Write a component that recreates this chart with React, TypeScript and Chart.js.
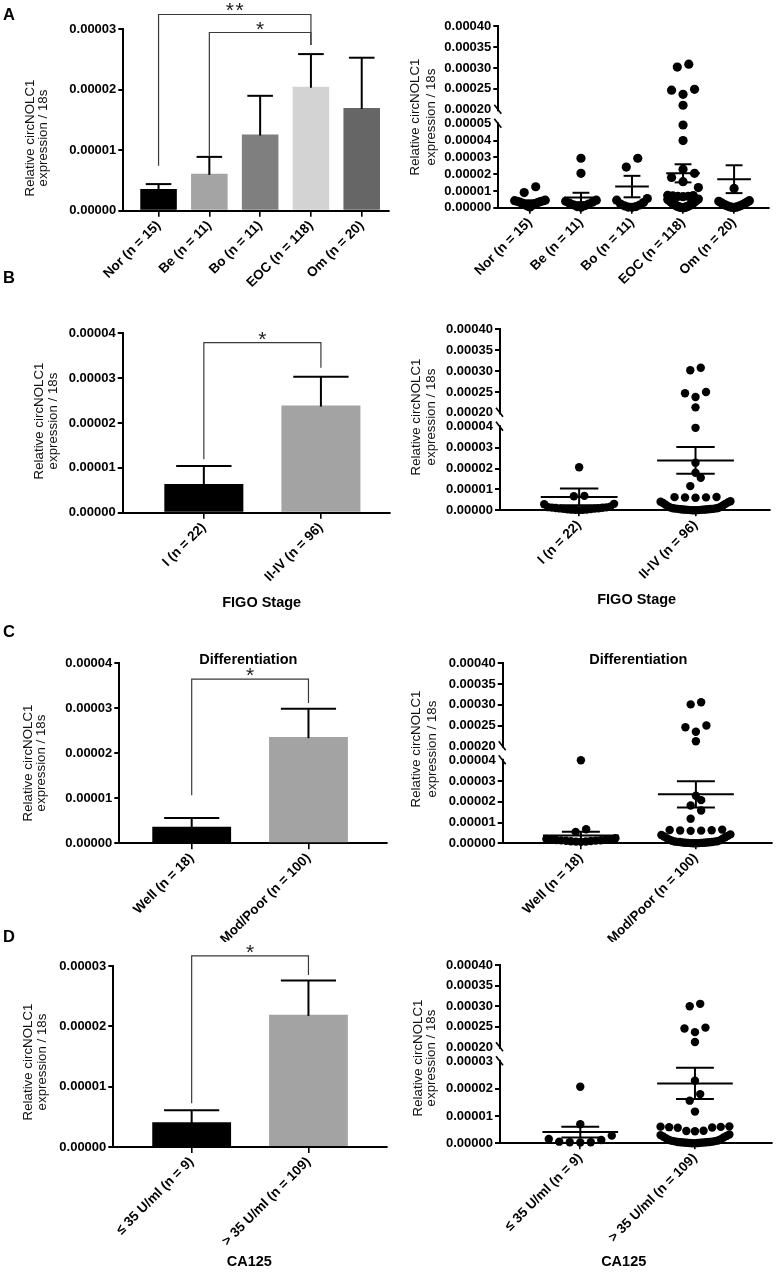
import React, { useEffect, useRef } from 'react';
import { Chart, registerables } from 'chart.js';

Chart.register(...registerables);

const FONT = "'Liberation Sans', Arial, Helvetica, sans-serif";

// ===================== DATA =====================
const yTitleLines = ['Relative circNOLC1', 'expression / 18s'];
const upperTicks = [0.0002, 0.00025, 0.0003, 0.00035, 0.0004];

// ---- Panel A ----
const aCategories = ['Nor (n = 15)', 'Be (n = 11)', 'Bo (n = 11)', 'EOC (n = 118)', 'Om (n = 20)'];
const aMeans = [3.6e-6, 6.1e-6, 1.26e-5, 2.05e-5, 1.7e-5];
const aSems = [0.8e-6, 2.8e-6, 6.4e-6, 5.4e-6, 8.3e-6];
const aBarColors = ['#000000', '#a4a4a4', '#7f7f7f', '#d3d3d3', '#666666'];
const aBarTicks = [0, 1e-5, 2e-5, 3e-5];
const aDotTicks = [0, 1e-5, 2e-5, 3e-5, 4e-5, 5e-5];
const aNor = [1.25e-5, 0.9e-5, 0.45e-5, 0.42e-5, 0.4e-5, 0.38e-5, 0.36e-5, 0.33e-5, 0.3e-5, 0.27e-5, 0.24e-5, 0.2e-5, 0.15e-5, 0.1e-5, 0.04e-5];
const aBe = [2.95e-5, 2.05e-5, 0.45e-5, 0.38e-5, 0.33e-5, 0.27e-5, 0.22e-5, 0.17e-5, 0.12e-5, 0.07e-5, 0.03e-5];
const aBo = [2.95e-5, 2.42e-5, 0.55e-5, 0.45e-5, 0.31e-5, 0.22e-5, 0.16e-5, 0.11e-5, 0.07e-5, 0.04e-5, 0.02e-5];
const aEOC = [
  3.09e-4, 3.02e-4, 2.49e-4, 2.47e-4, 2.37e-4, 2.11e-4,
  4.93e-5, 4.0e-5, 2.3e-5, 2.05e-5, 1.8e-5, 1.55e-5, 1.2e-5,
  0.74e-5, 0.72e-5, 0.7e-5, 0.68e-5, 0.67e-5, 0.66e-5,
  0.52e-5, 0.49e-5, 0.47e-5, 0.44e-5, 0.41e-5, 0.38e-5, 0.36e-5, 0.33e-5, 0.3e-5, 0.28e-5,
  0.25e-5, 0.22e-5, 0.2e-5, 0.17e-5, 0.15e-5, 0.13e-5, 0.11e-5, 0.09e-5, 0.08e-5, 0.06e-5,
  0.05e-5, 0.04e-5, 0.03e-5, 0.02e-5, 0.01e-5, 0.01e-5, 0,
];
const aOm = [1.15e-5, 0.42e-5, 0.38e-5, 0.35e-5, 0.32e-5, 0.29e-5, 0.26e-5, 0.23e-5, 0.2e-5, 0.18e-5, 0.15e-5, 0.13e-5, 0.11e-5, 0.09e-5, 0.07e-5, 0.05e-5, 0.04e-5, 0.03e-5, 0.02e-5, 0.01e-5];

// ---- Panel B ----
const bCategories = ['I (n = 22)', 'II-IV (n = 96)'];
const bMeans = [6.4e-6, 2.39e-5];
const bSems = [4.0e-6, 6.4e-6];
const bBarColors = ['#000000', '#a3a3a3'];
const bBarTicks = [0, 1e-5, 2e-5, 3e-5, 4e-5];
const bDotTicks = [0, 1e-5, 2e-5, 3e-5, 4e-5];
const bI = [2.06e-5, 0.69e-5, 0.67e-5, 0.31e-5, 0.29e-5, 0.17e-5, 0.15e-5, 0.14e-5, 0.13e-5, 0.12e-5, 0.11e-5, 0.1e-5, 0.09e-5, 0.08e-5, 0.07e-5, 0.06e-5, 0.05e-5, 0.04e-5, 0.03e-5, 0.02e-5, 0.02e-5, 0.01e-5];
const bII = [
  3.08e-4, 3.02e-4, 2.5e-4, 2.47e-4, 2.38e-4, 2.13e-4,
  3.95e-5, 2.28e-5, 1.8e-5, 1.56e-5, 1.16e-5,
  0.64e-5, 0.63e-5, 0.62e-5, 0.61e-5, 0.6e-5,
  0.43e-5, 0.41e-5, 0.38e-5, 0.35e-5, 0.31e-5, 0.27e-5, 0.23e-5, 0.19e-5, 0.16e-5, 0.13e-5,
  0.11e-5, 0.1e-5, 0.09e-5, 0.08e-5, 0.07e-5, 0.07e-5, 0.06e-5, 0.05e-5, 0.05e-5, 0.04e-5,
  0.04e-5, 0.03e-5, 0.03e-5, 0.02e-5, 0.02e-5, 0.01e-5, 0.01e-5, 0, 0,
];

// ---- Panel C ----
const cCategories = ['Well (n = 18)', 'Mod/Poor (n = 100)'];
const cMeans = [3.7e-6, 2.36e-5];
const cSems = [1.9e-6, 6.3e-6];
const cBarColors = ['#000000', '#a3a3a3'];
const cBarTicks = [0, 1e-5, 2e-5, 3e-5, 4e-5];
const cDotTicks = [0, 1e-5, 2e-5, 3e-5, 4e-5];
const cWell = [4.0e-5, 0.68e-5, 0.55e-5, 0.24e-5, 0.21e-5, 0.19e-5, 0.18e-5, 0.17e-5, 0.16e-5, 0.15e-5, 0.14e-5, 0.13e-5, 0.12e-5, 0.11e-5, 0.1e-5, 0.09e-5, 0.08e-5, 0.07e-5];
const cMod = [
  3.06e-4, 3.01e-4, 2.5e-4, 2.46e-4, 2.35e-4, 2.12e-4,
  2.29e-5, 2.08e-5, 1.82e-5, 1.58e-5, 1.18e-5,
  0.66e-5, 0.64e-5, 0.63e-5, 0.62e-5, 0.61e-5, 0.6e-5,
  0.43e-5, 0.4e-5, 0.36e-5, 0.33e-5, 0.29e-5, 0.25e-5, 0.21e-5, 0.17e-5, 0.14e-5, 0.12e-5,
  0.1e-5, 0.09e-5, 0.08e-5, 0.07e-5, 0.06e-5, 0.06e-5, 0.05e-5, 0.04e-5, 0.04e-5, 0.03e-5,
  0.03e-5, 0.02e-5, 0.02e-5, 0.01e-5, 0.01e-5, 0, 0,
];

// ---- Panel D ----
const dCategories = ['≤ 35 U/ml (n = 9)', '> 35 U/ml (n = 109)'];
const dMeans = [4.1e-6, 2.19e-5];
const dSems = [2.0e-6, 5.7e-6];
const dBarColors = ['#000000', '#a3a3a3'];
const dBarTicks = [0, 1e-5, 2e-5, 3e-5];
const dDotTicks = [0, 1e-5, 2e-5, 3e-5];
const dLow = [2.07e-5, 0.7e-5, 0.28e-5, 0.16e-5, 0.12e-5, 0.06e-5, 0.04e-5, 0.04e-5, 0.03e-5];
const dHigh = [
  3.06e-4, 3.0e-4, 2.48e-4, 2.46e-4, 2.37e-4, 2.13e-4,
  2.29e-5, 1.8e-5, 1.56e-5, 1.16e-5,
  0.62e-5, 0.61e-5, 0.6e-5, 0.59e-5, 0.58e-5, 0.57e-5, 0.46e-5, 0.45e-5, 0.44e-5,
  0.32e-5, 0.3e-5, 0.27e-5, 0.24e-5, 0.21e-5, 0.18e-5, 0.15e-5, 0.12e-5, 0.1e-5, 0.09e-5,
  0.08e-5, 0.07e-5, 0.06e-5, 0.05e-5, 0.05e-5, 0.04e-5, 0.04e-5, 0.03e-5, 0.03e-5, 0.02e-5,
  0.02e-5, 0.01e-5, 0.01e-5, 0, 0,
];

// significance brackets (values in axis units)
const aBrackets = [
  { from: 0, to: 3, y: 3.245e-5, fromEnd: 0.745e-5, toEnd: 2.74e-5, label: '**' },
  { from: 1, to: 3, y: 2.947e-5, fromEnd: 0.894e-5, toEnd: 2.74e-5, label: '*' },
];
const bBrackets = [{ from: 0, to: 1, y: 3.79e-5, fromEnd: 1.19e-5, toEnd: 3.23e-5, label: '*' }];
const cBrackets = [{ from: 0, to: 1, y: 3.65e-5, fromEnd: 1.07e-5, toEnd: 3.12e-5, label: '*' }];
const dBrackets = [{ from: 0, to: 1, y: 3.167e-5, fromEnd: 0.725e-5, toEnd: 2.85e-5, label: '*' }];

// ===================== LAYOUT =====================
const Y_AXIS_BOX = 70;
const BREAK_GAP = 14;

const fmtTick = (v: number) => Number(v).toFixed(5);

type Rect = { x: number; y: number; w: number; h: number };
type Area = { l: number; t: number; r: number; b: number };
type TextItem = { text: string; x: number; y: number; size: number; bold?: boolean; align?: CanvasTextAlign; baseline?: CanvasTextBaseline };

function yTitleTexts(x1: number, x2: number, cy: number) {
  return { x1, x2, cy };
}

const panels: any[] = [
  {
    id: 'A-bar', kind: 'bar', canvas: { x: 0, y: 0, w: 392, h: 292 }, area: { l: 123.3, t: 29.3, r: 389, b: 210.7 },
    xRange: [-0.694, 4.537], categories: aCategories, means: aMeans, sems: aSems, colors: aBarColors,
    yTicks: aBarTicks, barPct: 0.72, brackets: aBrackets, yTitle: yTitleTexts(30, 43.5, 138),
    texts: [{ text: 'A', x: 3, y: 20, size: 16.5, bold: true, align: 'left', baseline: 'alphabetic' }],
  },
  {
    id: 'A-dot', kind: 'dot', canvas: { x: 392, y: 0, w: 384, h: 292 }, area: { l: 498.3, t: 26, r: 769.3, b: 207.7 },
    xRange: [-0.62, 4.69], categories: aCategories, means: aMeans, sems: aSems,
    groups: [aNor, aBe, aBo, aEOC, aOm], lowerTicks: aDotTicks, radius: 4.6, yTitle: yTitleTexts(415.5, 431.5, 117), texts: [],
  },
  {
    id: 'B-bar', kind: 'bar', canvas: { x: 0, y: 268, w: 392, h: 352 }, area: { l: 122.7, t: 333.3, r: 390, b: 512.7 },
    xRange: [-0.693, 1.59], categories: bCategories, means: bMeans, sems: bSems, colors: bBarColors,
    yTicks: bBarTicks, barPct: 0.675, brackets: bBrackets, yTitle: yTitleTexts(39.5, 53.5, 421),
    texts: [
      { text: 'B', x: 3, y: 283.3, size: 16.5, bold: true, align: 'left', baseline: 'alphabetic' },
      { text: 'FIGO Stage', x: 261.7, y: 603.3, size: 14.5, bold: true },
    ],
  },
  {
    id: 'B-dot', kind: 'dot', canvas: { x: 392, y: 268, w: 384, h: 352 }, area: { l: 500, t: 329.3, r: 770, b: 510.3 },
    xRange: [-0.68, 1.64], categories: bCategories, means: bMeans, sems: bSems,
    groups: [bI, bII], lowerTicks: bDotTicks, radius: 4.2, yTitle: yTitleTexts(416.7, 431.7, 417),
    texts: [{ text: 'FIGO Stage', x: 636.7, y: 600, size: 14.5, bold: true }],
  },
  {
    id: 'C-bar', kind: 'bar', canvas: { x: 0, y: 620, w: 392, h: 322 }, area: { l: 119.3, t: 663.3, r: 386.7, b: 843.3 },
    xRange: [-0.62, 1.67], categories: cCategories, means: cMeans, sems: cSems, colors: cBarColors,
    yTicks: cBarTicks, barPct: 0.675, brackets: cBrackets, yTitle: yTitleTexts(28.3, 41.7, 763),
    texts: [
      { text: 'C', x: 3, y: 637, size: 16.5, bold: true, align: 'left', baseline: 'alphabetic' },
      { text: 'Differentiation', x: 248.3, y: 660, size: 14.5, bold: true },
    ],
  },
  {
    id: 'C-dot', kind: 'dot', canvas: { x: 392, y: 620, w: 384, h: 322 }, area: { l: 502.7, t: 663.3, r: 773.3, b: 843.3 },
    xRange: [-0.68, 1.66], categories: cCategories, means: cMeans, sems: cSems,
    groups: [cWell, cMod], lowerTicks: cDotTicks, radius: 4.2, yTitle: yTitleTexts(416.7, 432.7, 749),
    texts: [{ text: 'Differentiation', x: 638.3, y: 660, size: 14.5, bold: true }],
  },
  {
    id: 'D-bar', kind: 'bar', canvas: { x: 0, y: 920, w: 392, h: 353 }, area: { l: 113.3, t: 966, r: 386.7, b: 1147 },
    xRange: [-0.671, 1.67], categories: dCategories, means: dMeans, sems: dSems, colors: dBarColors,
    yTicks: dBarTicks, barPct: 0.675, brackets: dBrackets, yTitle: yTitleTexts(28.3, 42.3, 1062),
    texts: [
      { text: 'D', x: 3, y: 941.7, size: 16.5, bold: true, align: 'left', baseline: 'alphabetic' },
      { text: 'CA125', x: 249.3, y: 1261.7, size: 14.5, bold: true },
    ],
  },
  {
    id: 'D-dot', kind: 'dot', canvas: { x: 392, y: 920, w: 384, h: 353 }, area: { l: 500, t: 965.3, r: 775, b: 1143.3 },
    xRange: [-0.7, 1.67], categories: dCategories, means: dMeans, sems: dSems,
    groups: [dLow, dHigh], lowerTicks: dDotTicks, radius: 4.2, yTitle: yTitleTexts(418.3, 431.7, 1058),
    texts: [{ text: 'CA125', x: 623.7, y: 1261.7, size: 14.5, bold: true }],
  },
];

// ===================== HELPERS =====================
function xBoxHeight(canvas: Rect, area: Area) {
  return canvas.y + canvas.h - area.b;
}

function baseLayout(canvas: Rect, area: Area) {
  return {
    padding: {
      left: area.l - canvas.x - Y_AXIS_BOX,
      top: area.t - canvas.y,
      right: canvas.x + canvas.w - area.r,
      bottom: 0,
    },
  };
}

function xScale(categories: string[], range: number[], boxH: number) {
  return {
    type: 'linear',
    axis: 'x',
    position: 'bottom',
    min: range[0],
    max: range[1],
    bounds: 'data',
    offset: false,
    afterBuildTicks: (s: any) => {
      s.ticks = categories.map((_, i) => ({ value: i }));
    },
    afterFit: (s: any) => {
      s.height = boxH;
    },
    ticks: {
      autoSkip: false,
      minRotation: 45,
      maxRotation: 45,
      padding: 1,
      color: '#000',
      font: { family: FONT, size: 13.5, weight: 'bold' },
      callback: (v: number) => categories[Math.round(v)] ?? '',
    },
    grid: { drawOnChartArea: false, drawTicks: true, tickLength: 6, lineWidth: 1.6, color: '#000', offset: false },
    border: { display: true, width: 2, color: '#000' },
  };
}

function yScale(ticks: number[], min: number, max: number, hideTick: number | null, extra: any = {}) {
  return {
    type: 'linear',
    axis: 'y',
    position: 'left',
    min,
    max,
    bounds: 'data',
    afterBuildTicks: (s: any) => {
      s.ticks = ticks.map((v) => ({ value: v }));
    },
    afterFit: (s: any) => {
      s.width = Y_AXIS_BOX;
    },
    ticks: {
      autoSkip: false,
      padding: 2,
      color: '#000',
      font: { family: FONT, size: 13, weight: 'bold' },
      callback: (v: number) => fmtTick(v),
    },
    grid: {
      drawOnChartArea: false,
      drawTicks: true,
      tickLength: 5,
      lineWidth: 2,
      color: '#000',
      tickColor: (ctx: any) =>
        hideTick !== null && ctx.tick && Math.abs(ctx.tick.value - hideTick) < 1e-12 ? 'rgba(0,0,0,0)' : '#000',
    },
    border: { display: true, width: 2, color: '#000' },
    ...extra,
  };
}

function line(ctx: CanvasRenderingContext2D, x1: number, y1: number, x2: number, y2: number) {
  ctx.beginPath();
  ctx.moveTo(x1, y1);
  ctx.lineTo(x2, y2);
  ctx.stroke();
}

function textPlugin(p: any) {
  return {
    id: 'texts-' + p.id,
    afterDraw(chart: any) {
      const ctx: CanvasRenderingContext2D = chart.ctx;
      const ox = p.canvas.x;
      const oy = p.canvas.y;
      ctx.save();
      ctx.fillStyle = '#111';
      ctx.font = `13.3px ${FONT}`;
      ctx.textAlign = 'center';
      ctx.textBaseline = 'middle';
      [p.yTitle.x1, p.yTitle.x2].forEach((x: number, i: number) => {
        ctx.save();
        ctx.translate(x - ox, p.yTitle.cy - oy);
        ctx.rotate(-Math.PI / 2);
        ctx.fillText(yTitleLines[i], 0, 0);
        ctx.restore();
      });
      p.texts.forEach((t: TextItem) => {
        ctx.font = `${t.bold ? 'bold ' : ''}${t.size}px ${FONT}`;
        ctx.textAlign = t.align || 'center';
        ctx.textBaseline = t.baseline || 'middle';
        ctx.fillStyle = '#000';
        ctx.fillText(t.text, t.x - ox, t.y - oy);
      });
      ctx.restore();
    },
  };
}

function barExtrasPlugin(p: any) {
  return {
    id: 'barextras-' + p.id,
    afterDatasetsDraw(chart: any) {
      const ctx: CanvasRenderingContext2D = chart.ctx;
      const xs = chart.scales.x;
      const ys = chart.scales.y;
      const meta = chart.getDatasetMeta(0);
      ctx.save();
      ctx.strokeStyle = '#000';
      ctx.lineWidth = 2;
      p.means.forEach((m: number, i: number) => {
        const bar = meta.data[i];
        const w = bar.width;
        const cx = xs.getPixelForValue(i);
        const yBase = ys.getPixelForValue(m);
        const yTop = ys.getPixelForValue(m + p.sems[i]);
        line(ctx, cx, yBase + 1, cx, yTop);
        line(ctx, cx - 0.35 * w, yTop, cx + 0.35 * w, yTop);
      });
      ctx.strokeStyle = '#3a3a3a';
      ctx.lineWidth = 1.2;
      p.brackets.forEach((b: any) => {
        const x1 = xs.getPixelForValue(b.from);
        const x2 = xs.getPixelForValue(b.to);
        const yb = ys.getPixelForValue(b.y);
        ctx.beginPath();
        ctx.moveTo(x1, ys.getPixelForValue(b.fromEnd));
        ctx.lineTo(x1, yb);
        ctx.lineTo(x2, yb);
        ctx.lineTo(x2, ys.getPixelForValue(b.toEnd));
        ctx.stroke();
        ctx.font = `21px ${FONT}`;
        ctx.fillStyle = '#222';
        ctx.textAlign = 'center';
        ctx.textBaseline = 'alphabetic';
        const adv = ctx.measureText('*').width + 1.5;
        const n = b.label.length;
        const mid = (x1 + x2) / 2;
        for (let k = 0; k < n; k++) {
          ctx.fillText('*', mid + (k - (n - 1) / 2) * adv, yb + 3);
        }
      });
      ctx.restore();
    },
  };
}

const swarmPlugin = {
  id: 'swarm',
  afterDatasetsUpdate(chart: any) {
    const xs = chart.scales.x;
    const spacing = Math.abs(xs.getPixelForValue(1) - xs.getPixelForValue(0));
    chart.data.datasets.forEach((ds: any, di: number) => {
      if (!ds.swarm) return;
      const meta = chart.getDatasetMeta(di);
      const d = ds.pointRadius * 2;
      const rowPx = 1.1 * d;
      const maxW = 0.6 * spacing;
      const cx = xs.getPixelForValue(ds.cat);
      const items = meta.data.map((el: any, i: number) => ({ el, v: ds.data[i].y }));
      items.sort((a: any, b: any) => a.v - b.v);
      const rows: any[][] = [];
      let cur: any[] = [];
      let startY = 0;
      items.forEach((it: any) => {
        if (cur.length && startY - it.el.y < rowPx) cur.push(it);
        else {
          if (cur.length) rows.push(cur);
          cur = [it];
          startY = it.el.y;
        }
      });
      if (cur.length) rows.push(cur);
      rows.forEach((row) => {
        const n = row.length;
        const s = n > 1 ? Math.min(1.25 * d, maxW / (n - 1)) : 0;
        const slots = row.map((_: any, k: number) => (k - (n - 1) / 2) * s);
        slots.sort((a: number, b: number) => Math.abs(a) - Math.abs(b) || a - b);
        row.forEach((it: any, k: number) => {
          it.el.x = cx + slots[k];
        });
      });
    });
  },
};

function dotExtrasPlugin(p: any, loTop: number) {
  return {
    id: 'dotextras-' + p.id,
    afterDatasetsDraw(chart: any) {
      const ctx: CanvasRenderingContext2D = chart.ctx;
      const xs = chart.scales.x;
      const ys = chart.scales.yLo;
      const sp = Math.abs(xs.getPixelForValue(1) - xs.getPixelForValue(0));
      ctx.save();
      ctx.strokeStyle = '#000';
      ctx.lineWidth = 2;
      p.means.forEach((m: number, i: number) => {
        const cx = xs.getPixelForValue(i);
        const ym = ys.getPixelForValue(m);
        const yu = ys.getPixelForValue(m + p.sems[i]);
        const yl = ys.getPixelForValue(m - p.sems[i]);
        line(ctx, cx - 0.33 * sp, ym, cx + 0.33 * sp, ym);
        line(ctx, cx, yu, cx, yl);
        line(ctx, cx - 0.165 * sp, yu, cx + 0.165 * sp, yu);
        line(ctx, cx - 0.165 * sp, yl, cx + 0.165 * sp, yl);
      });
      ctx.restore();
    },
    afterDraw(chart: any) {
      const ctx: CanvasRenderingContext2D = chart.ctx;
      const hi = chart.scales.yHi;
      const lo = chart.scales.yLo;
      const yU = hi.getPixelForValue(upperTicks[0]);
      const yL = lo.getPixelForValue(loTop);
      const ax = chart.chartArea.left;
      ctx.save();
      ctx.fillStyle = '#fff';
      ctx.fillRect(ax - 3, Math.min(yU, yL) + 1.5, 6, Math.abs(yL - yU) - 3);
      ctx.strokeStyle = '#000';
      ctx.lineWidth = 1.6;
      [yU, yL].forEach((y) => line(ctx, ax - 4, y - 5, ax + 3, y + 4));
      ctx.restore();
    },
  };
}

function barConfig(p: any) {
  return {
    type: 'bar',
    data: {
      datasets: [
        {
          data: p.means.map((m: number, i: number) => ({ x: i, y: m })),
          backgroundColor: p.colors,
          borderWidth: 0,
          barPercentage: p.barPct,
          categoryPercentage: 1,
        },
      ],
    },
    options: {
      animation: false,
      responsive: false,
      maintainAspectRatio: false,
      events: [],
      layout: baseLayout(p.canvas, p.area),
      plugins: { legend: { display: false }, tooltip: { enabled: false } },
      scales: {
        x: xScale(p.categories, p.xRange, xBoxHeight(p.canvas, p.area)),
        y: yScale(p.yTicks, 0, p.yTicks[p.yTicks.length - 1], null),
      },
    },
    plugins: [barExtrasPlugin(p), textPlugin(p)],
  };
}

function dotConfig(p: any) {
  const H = p.area.b - p.area.t;
  const seg = (H - BREAK_GAP) / 2;
  const loTop = p.lowerTicks[p.lowerTicks.length - 1];
  const upTop = upperTicks[upperTicks.length - 1];
  const hiMin = upperTicks[0] - (BREAK_GAP / 2 / seg) * (upTop - upperTicks[0]);
  const loMax = loTop + (BREAK_GAP / 2 / seg) * loTop;
  const datasets: any[] = [];
  p.groups.forEach((vals: number[], g: number) => {
    const lo = vals.filter((v) => v < 1e-4);
    const hi = vals.filter((v) => v >= 1e-4);
    const common = {
      type: 'scatter',
      pointRadius: p.radius,
      pointBackgroundColor: '#000',
      pointBorderWidth: 0,
      pointBorderColor: '#000',
      showLine: false,
      clip: false,
      swarm: true,
      cat: g,
    };
    datasets.push({ ...common, yAxisID: 'yLo', data: lo.map((v) => ({ x: g, y: v })) });
    if (hi.length) datasets.push({ ...common, yAxisID: 'yHi', data: hi.map((v) => ({ x: g, y: v })) });
  });
  return {
    type: 'scatter',
    data: { datasets },
    options: {
      animation: false,
      responsive: false,
      maintainAspectRatio: false,
      events: [],
      layout: baseLayout(p.canvas, p.area),
      plugins: { legend: { display: false }, tooltip: { enabled: false } },
      scales: {
        x: xScale(p.categories, p.xRange, xBoxHeight(p.canvas, p.area)),
        yLo: yScale(p.lowerTicks, 0, loMax, loTop, { stack: 'v', stackWeight: 1 }),
        yHi: yScale(upperTicks, hiMin, upTop, upperTicks[0], { stack: 'v', stackWeight: 1 }),
      },
    },
    plugins: [swarmPlugin, dotExtrasPlugin(p, loTop), textPlugin(p)],
  };
}

function PanelCanvas({ panel }: { panel: any }) {
  const ref = useRef<HTMLCanvasElement>(null);
  useEffect(() => {
    if (!ref.current) return;
    const cfg = panel.kind === 'bar' ? barConfig(panel) : dotConfig(panel);
    const chart = new Chart(ref.current, cfg as any);
    return () => chart.destroy();
  }, [panel]);
  const c = panel.canvas;
  return (
    <canvas
      ref={ref}
      width={c.w}
      height={c.h}
      style={{ position: 'absolute', left: c.x, top: c.y, width: c.w, height: c.h }}
    />
  );
}

export default function App() {
  useEffect(() => {
    document.body.style.margin = '0';
  }, []);
  return (
    <div style={{ position: 'absolute', left: 0, top: 0, width: 776, height: 1273, background: '#fff', overflow: 'hidden' }}>
      {panels.map((p) => (
        <PanelCanvas key={p.id} panel={p} />
      ))}
    </div>
  );
}
